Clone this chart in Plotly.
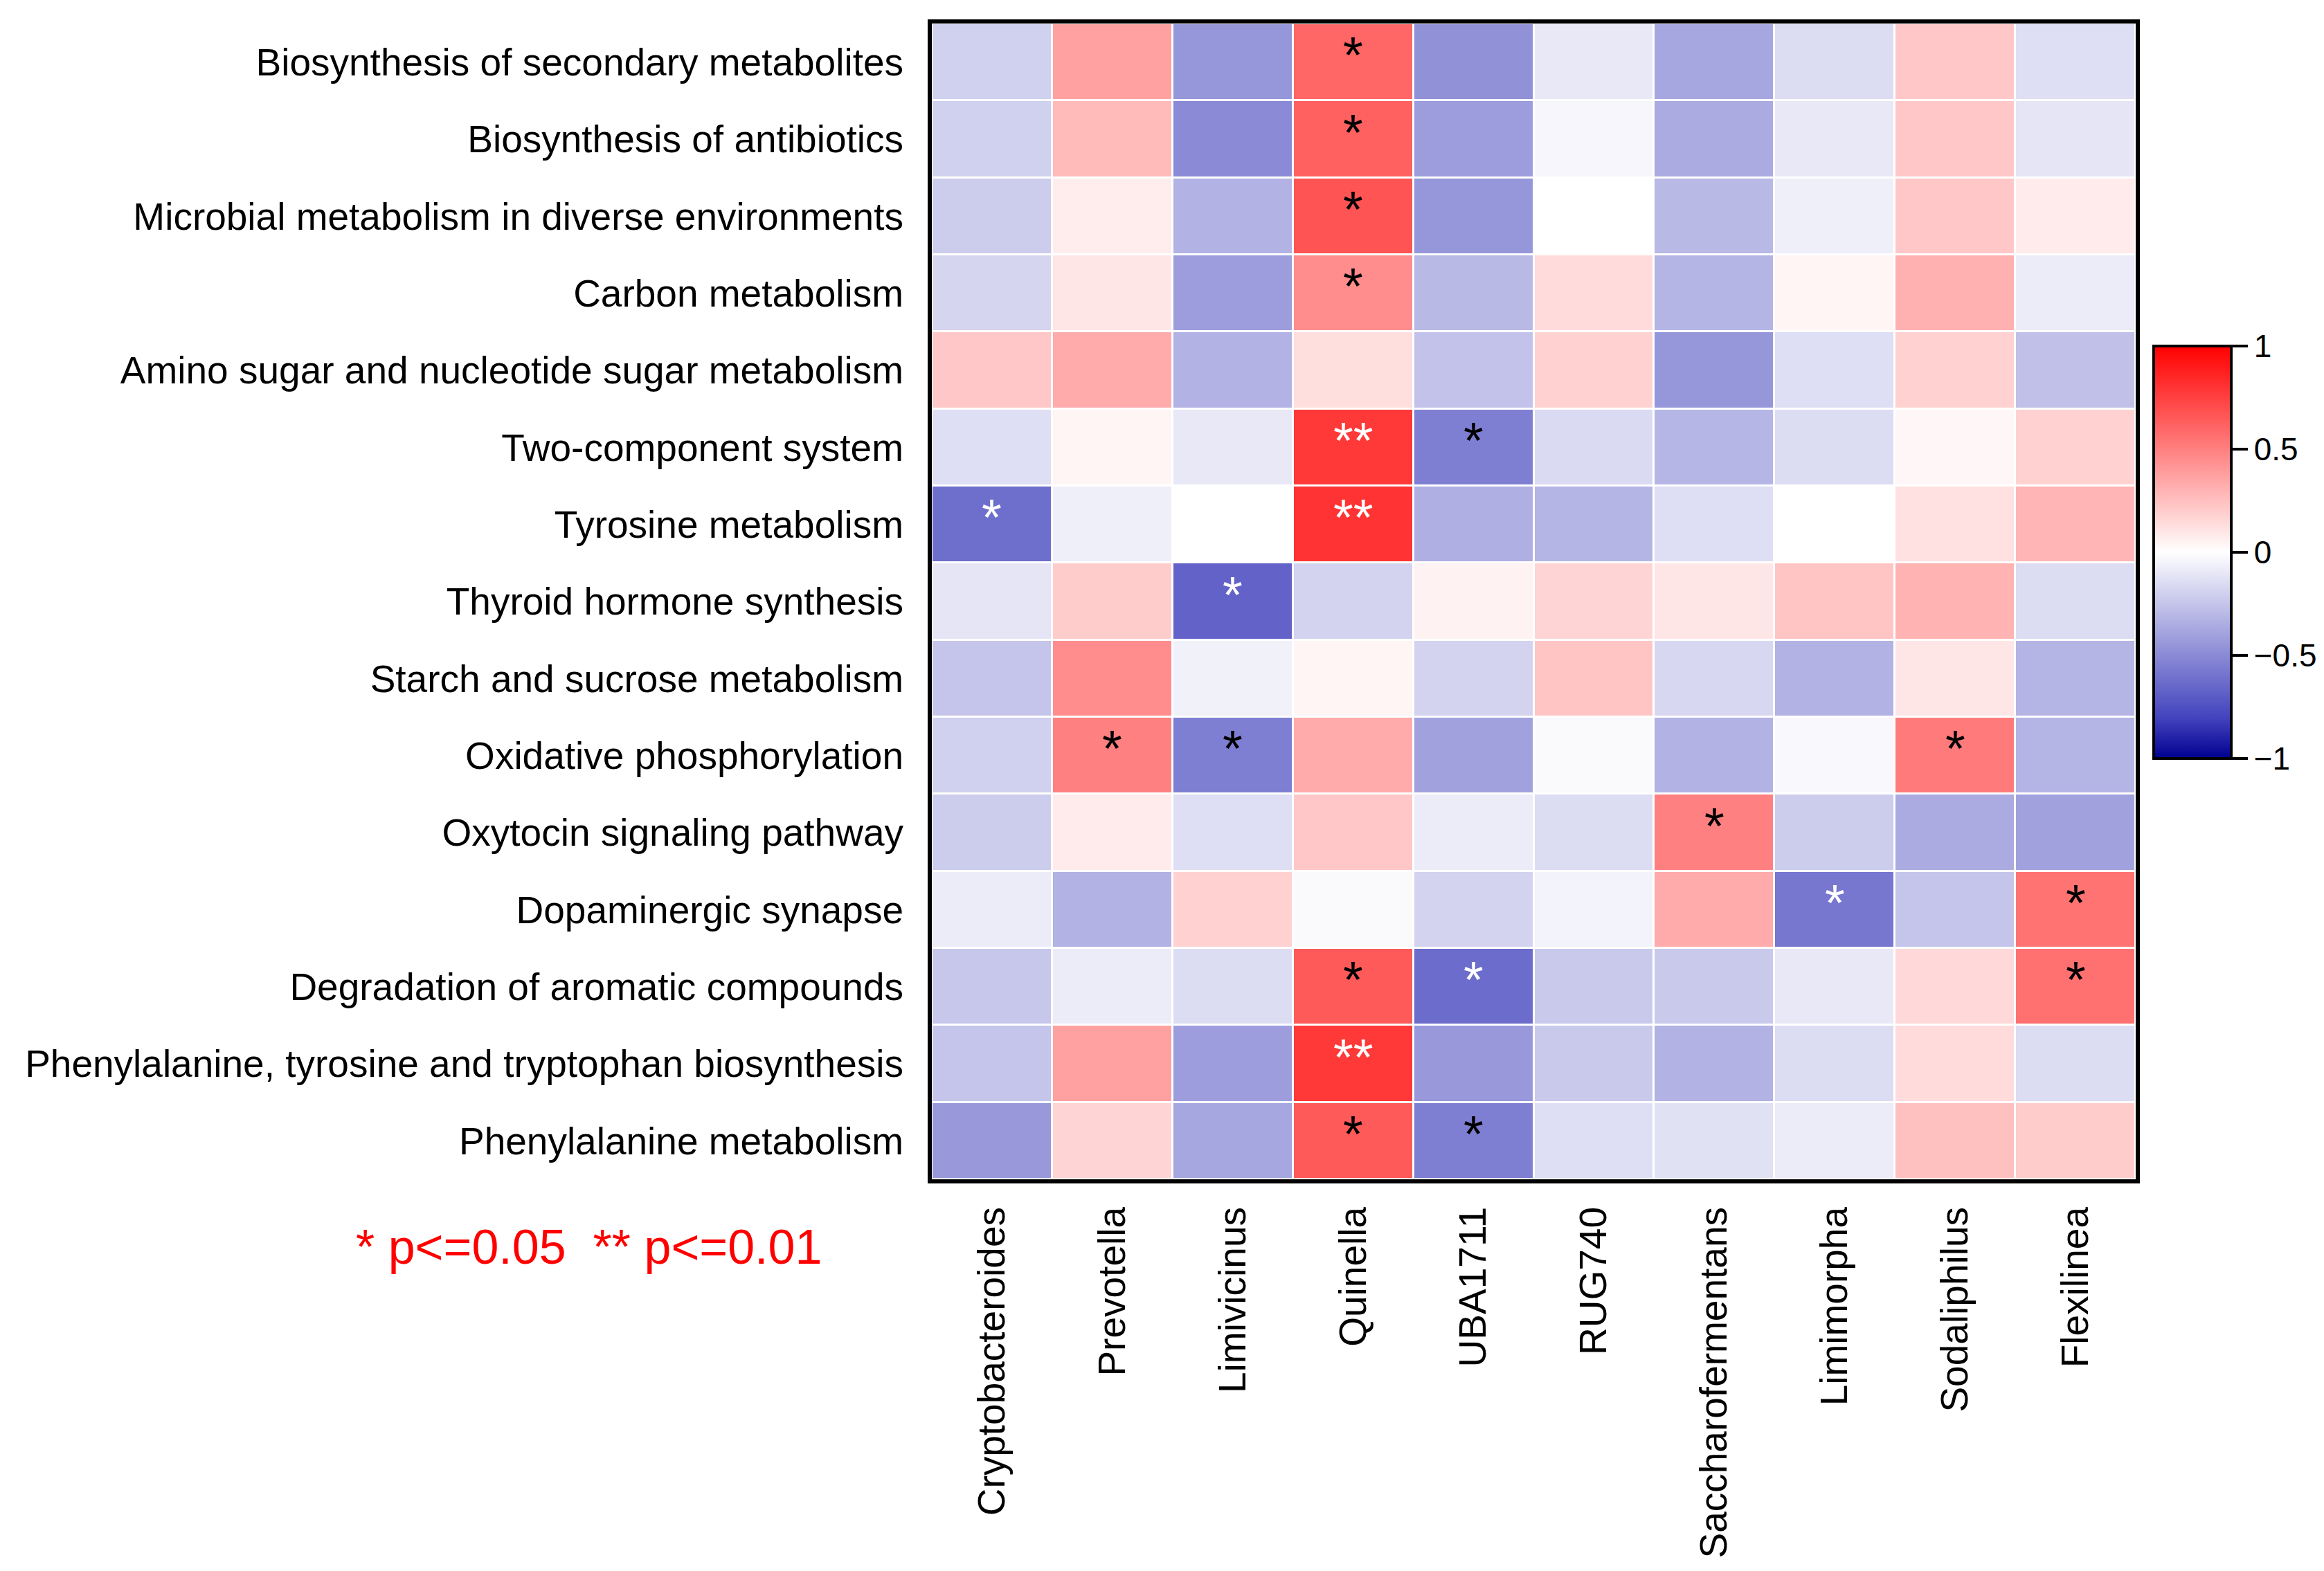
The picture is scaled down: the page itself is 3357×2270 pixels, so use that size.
import plotly.graph_objects as go

genera = ['Cryptobacteroides', 'Prevotella', 'Limivicinus', 'Quinella', 'UBA1711',
          'RUG740', 'Saccharofermentans', 'Limimorpha', 'Sodaliphilus', 'Flexilinea']

pathways = ['Biosynthesis of secondary metabolites',
            'Biosynthesis of antibiotics',
            'Microbial metabolism in diverse environments',
            'Carbon metabolism',
            'Amino sugar and nucleotide sugar metabolism',
            'Two-component system',
            'Tyrosine metabolism',
            'Thyroid hormone synthesis',
            'Starch and sucrose metabolism',
            'Oxidative phosphorylation',
            'Oxytocin signaling pathway',
            'Dopaminergic synapse',
            'Degradation of aromatic compounds',
            'Phenylalanine, tyrosine and tryptophan biosynthesis',
            'Phenylalanine metabolism']

# correlation values, one row per pathway (columns follow genera)
corr = [
    [-0.20, 0.37, -0.45, 0.60, -0.47, -0.10, -0.38, -0.15, 0.22, -0.14],
    [-0.20, 0.27, -0.50, 0.62, -0.42, -0.04, -0.36, -0.10, 0.22, -0.11],
    [-0.22, 0.07, -0.33, 0.67, -0.45, 0.00, -0.30, -0.07, 0.22, 0.08],
    [-0.18, 0.10, -0.42, 0.45, -0.30, 0.14, -0.32, 0.04, 0.31, -0.08],
    [0.22, 0.33, -0.33, 0.13, -0.26, 0.18, -0.45, -0.14, 0.18, -0.27],
    [-0.14, 0.04, -0.10, 0.78, -0.55, -0.16, -0.31, -0.15, 0.03, 0.18],
    [-0.62, -0.07, 0.00, 0.80, -0.34, -0.32, -0.14, 0.00, 0.12, 0.29],
    [-0.11, 0.20, -0.67, -0.19, 0.05, 0.17, 0.10, 0.23, 0.30, -0.15],
    [-0.25, 0.45, -0.06, 0.04, -0.19, 0.23, -0.17, -0.33, 0.10, -0.32],
    [-0.20, 0.50, -0.55, 0.33, -0.40, -0.02, -0.33, -0.03, 0.52, -0.32],
    [-0.22, 0.08, -0.14, 0.22, -0.08, -0.15, 0.50, -0.22, -0.36, -0.40],
    [-0.08, -0.33, 0.18, -0.02, -0.19, -0.05, 0.33, -0.58, -0.25, 0.55],
    [-0.24, -0.08, -0.15, 0.65, -0.63, -0.23, -0.23, -0.10, 0.15, 0.56],
    [-0.25, 0.37, -0.42, 0.78, -0.44, -0.23, -0.33, -0.15, 0.14, -0.15],
    [-0.44, 0.17, -0.38, 0.65, -0.55, -0.14, -0.13, -0.08, 0.25, 0.20],
]

# significance marks
signif = [
    ['', '', '', '*', '', '', '', '', '', ''],
    ['', '', '', '*', '', '', '', '', '', ''],
    ['', '', '', '*', '', '', '', '', '', ''],
    ['', '', '', '*', '', '', '', '', '', ''],
    ['', '', '', '', '', '', '', '', '', ''],
    ['', '', '', '**', '*', '', '', '', '', ''],
    ['*', '', '', '**', '', '', '', '', '', ''],
    ['', '', '*', '', '', '', '', '', '', ''],
    ['', '', '', '', '', '', '', '', '', ''],
    ['', '*', '*', '', '', '', '', '', '*', ''],
    ['', '', '', '', '', '', '*', '', '', ''],
    ['', '', '', '', '', '', '', '*', '', '*'],
    ['', '', '', '*', '*', '', '', '', '', '*'],
    ['', '', '', '**', '', '', '', '', '', ''],
    ['', '', '', '*', '*', '', '', '', '', ''],
]

# cells whose mark is drawn in white (row, column)
white_marks = [(5, 3), (6, 0), (6, 3), (7, 2), (11, 7), (12, 4), (13, 3)]

font = 'Arial, Liberation Sans, sans-serif'

colorscale = [
    [0.0, 'rgb(0,0,145)'],
    [0.1, 'rgb(68,68,190)'],
    [0.25, 'rgb(138,138,214)'],
    [0.5, 'rgb(255,255,255)'],
    [0.75, 'rgb(255,128,128)'],
    [1.0, 'rgb(255,0,0)'],
]

fig = go.Figure(go.Heatmap(
    z=corr, x=genera, y=pathways,
    zmin=-1, zmax=1, colorscale=colorscale,
    xgap=3, ygap=3, hoverongaps=False,
    colorbar=dict(
        x=1.015, xanchor='left', xpad=0,
        y=0.5425, yanchor='middle', ypad=0,
        thickness=112, thicknessmode='pixels',
        len=596, lenmode='pixels',
        outlinewidth=4, outlinecolor='black',
        tickvals=[-1, -0.5, 0, 0.5, 1],
        ticktext=['\u22121', '\u22120.5', '0', '0.5', '1'],
        ticks='outside', ticklen=22, tickwidth=4, tickcolor='black',
        tickfont=dict(family=font, size=46, color='black'),
    ),
))

annotations = []
for i, row in enumerate(signif):
    for j, mark in enumerate(row):
        if mark:
            annotations.append(dict(
                x=genera[j], y=pathways[i], text=mark, showarrow=False, yshift=10,
                font=dict(family=font, size=74,
                          color='white' if (i, j) in white_marks else 'black'),
            ))

annotations.append(dict(
    xref='paper', yref='paper', x=-0.285, y=-0.0587, xanchor='center', yanchor='middle',
    text='* p<=0.05  ** p<=0.01', showarrow=False,
    font=dict(family=font, size=70, color='red'),
))

fig.update_layout(
    width=3357, height=2270,
    margin=dict(l=1338, r=280, t=26, b=574),
    plot_bgcolor='white', paper_bgcolor='white',
    annotations=annotations,
    font=dict(family=font, color='black'),
)
fig.update_xaxes(
    tickangle=-90, tickfont=dict(family=font, size=55, color='black'),
    showline=True, linecolor='black', linewidth=6, mirror=True,
    ticks='', ticklabelstandoff=12, showgrid=False,
)
fig.update_yaxes(
    autorange='reversed', tickfont=dict(family=font, size=55, color='black'),
    showline=True, linecolor='black', linewidth=6, mirror=True,
    ticks='', ticklabelstandoff=24, showgrid=False,
)

fig.write_html('out.html')
